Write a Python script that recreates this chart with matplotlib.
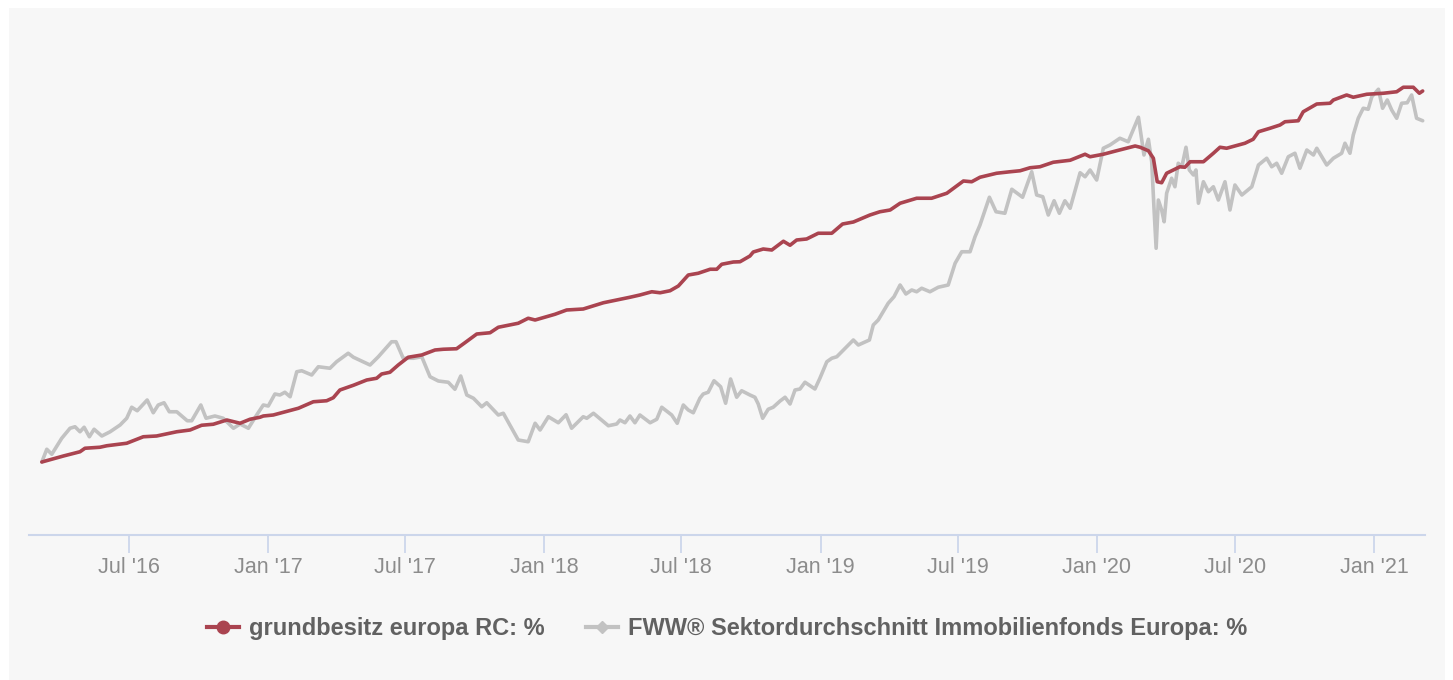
import datetime
import matplotlib
matplotlib.use("Agg")
import matplotlib.pyplot as plt
from matplotlib.lines import Line2D
from matplotlib.patches import Rectangle

# ---------------- data (time in decimal years, values in %) ----------------
red_name = "grundbesitz europa RC: %"
gray_name = "FWW® Sektordurchschnitt Immobilienfonds Europa: %"

red_t = [2016.182, 2016.260, 2016.320, 2016.338, 2016.392, 2016.417, 2016.489, 2016.549,
         2016.597, 2016.670, 2016.718, 2016.760, 2016.802, 2016.851, 2016.899, 2016.935,
         2016.971, 2016.983, 2017.019, 2017.110, 2017.164, 2017.212, 2017.236, 2017.260,
         2017.309, 2017.357, 2017.393, 2017.411, 2017.441, 2017.471, 2017.507, 2017.556,
         2017.604, 2017.634, 2017.682, 2017.712, 2017.755, 2017.803, 2017.833, 2017.905,
         2017.941, 2017.966, 2018.038, 2018.080, 2018.140, 2018.213, 2018.309, 2018.345,
         2018.388, 2018.418, 2018.454, 2018.484, 2018.520, 2018.556, 2018.599, 2018.623,
         2018.641, 2018.683, 2018.707, 2018.743, 2018.755, 2018.791, 2018.822, 2018.864,
         2018.888, 2018.912, 2018.948, 2018.990, 2019.039, 2019.078, 2019.117, 2019.177,
         2019.213, 2019.250, 2019.286, 2019.346, 2019.400, 2019.455, 2019.515, 2019.545,
         2019.575, 2019.635, 2019.684, 2019.720, 2019.756, 2019.792, 2019.840, 2019.901,
         2019.955, 2019.973, 2020.021, 2020.069, 2020.136, 2020.154, 2020.184, 2020.202,
         2020.216, 2020.232, 2020.250, 2020.298, 2020.316, 2020.335, 2020.383, 2020.419,
         2020.443, 2020.467, 2020.533, 2020.563, 2020.582, 2020.624, 2020.660, 2020.678,
         2020.726, 2020.744, 2020.793, 2020.841, 2020.853, 2020.901, 2020.925, 2020.974,
         2021.034, 2021.082, 2021.106, 2021.142, 2021.164, 2021.176]
red_v = [0.00, 0.24, 0.41, 0.55, 0.59, 0.65, 0.75, 1.01,
         1.04, 1.21, 1.28, 1.47, 1.51, 1.68, 1.55, 1.71,
         1.79, 1.84, 1.88, 2.15, 2.41, 2.45, 2.57, 2.88,
         3.07, 3.28, 3.35, 3.52, 3.59, 3.88, 4.19, 4.28,
         4.48, 4.51, 4.53, 4.77, 5.12, 5.17, 5.39, 5.55,
         5.75, 5.68, 5.91, 6.08, 6.12, 6.37, 6.59, 6.68,
         6.81, 6.77, 6.85, 7.04, 7.48, 7.55, 7.71, 7.71,
         7.91, 8.00, 8.01, 8.24, 8.40, 8.52, 8.48, 8.83,
         8.67, 8.88, 8.92, 9.15, 9.15, 9.52, 9.60, 9.88,
         10.01, 10.08, 10.35, 10.55, 10.55, 10.75, 11.24, 11.21,
         11.39, 11.55, 11.61, 11.65, 11.77, 11.81, 11.99, 12.07,
         12.31, 12.21, 12.31, 12.45, 12.64, 12.59, 12.45, 12.15,
         11.21, 11.17, 11.55, 11.81, 11.79, 12.01, 12.01, 12.35,
         12.59, 12.55, 12.75, 12.91, 13.21, 13.35, 13.48, 13.61,
         13.65, 14.01, 14.32, 14.35, 14.48, 14.68, 14.59, 14.71,
         14.75, 14.81, 14.99, 14.99, 14.75, 14.84]

gray_t = [2016.182, 2016.200, 2016.218, 2016.254, 2016.284, 2016.302, 2016.320, 2016.335,
          2016.354, 2016.371, 2016.399, 2016.429, 2016.465, 2016.489, 2016.507, 2016.527,
          2016.563, 2016.585, 2016.603, 2016.624, 2016.643, 2016.670, 2016.708, 2016.724,
          2016.757, 2016.776, 2016.808, 2016.838, 2016.875, 2016.899, 2016.929, 2016.959,
          2016.983, 2017.001, 2017.025, 2017.043, 2017.061, 2017.080, 2017.104, 2017.122,
          2017.158, 2017.182, 2017.224, 2017.248, 2017.290, 2017.309, 2017.369, 2017.399,
          2017.447, 2017.463, 2017.489, 2017.526, 2017.556, 2017.586, 2017.616, 2017.652,
          2017.676, 2017.697, 2017.719, 2017.743, 2017.773, 2017.791, 2017.833, 2017.851,
          2017.905, 2017.941, 2017.966, 2017.984, 2018.014, 2018.050, 2018.078, 2018.098,
          2018.140, 2018.153, 2018.177, 2018.231, 2018.261, 2018.273, 2018.291, 2018.309,
          2018.327, 2018.345, 2018.382, 2018.406, 2018.424, 2018.460, 2018.480, 2018.502,
          2018.520, 2018.538, 2018.562, 2018.574, 2018.592, 2018.613, 2018.637, 2018.655,
          2018.673, 2018.695, 2018.713, 2018.743, 2018.761, 2018.773, 2018.789, 2018.809,
          2018.827, 2018.852, 2018.870, 2018.888, 2018.906, 2018.924, 2018.942, 2018.978,
          2018.996, 2019.021, 2019.039, 2019.057, 2019.117, 2019.135, 2019.175, 2019.189,
          2019.207, 2019.243, 2019.264, 2019.286, 2019.307, 2019.328, 2019.346, 2019.364,
          2019.394, 2019.424, 2019.460, 2019.485, 2019.509, 2019.539, 2019.557, 2019.575,
          2019.609, 2019.633, 2019.665, 2019.690, 2019.729, 2019.762, 2019.780, 2019.802,
          2019.822, 2019.843, 2019.862, 2019.882, 2019.901, 2019.937, 2019.955, 2019.973,
          2019.997, 2020.021, 2020.045, 2020.081, 2020.111, 2020.148, 2020.168, 2020.184,
          2020.196, 2020.204, 2020.212, 2020.220, 2020.232, 2020.241, 2020.250, 2020.268,
          2020.280, 2020.292, 2020.305, 2020.320, 2020.332, 2020.347, 2020.356, 2020.365,
          2020.383, 2020.401, 2020.419, 2020.437, 2020.461, 2020.479, 2020.497, 2020.522,
          2020.558, 2020.582, 2020.612, 2020.630, 2020.648, 2020.666, 2020.690, 2020.714,
          2020.732, 2020.757, 2020.781, 2020.793, 2020.829, 2020.853, 2020.883, 2020.895,
          2020.913, 2020.925, 2020.943, 2020.961, 2020.979, 2020.992, 2021.016, 2021.031,
          2021.048, 2021.064, 2021.082, 2021.100, 2021.120, 2021.136, 2021.154, 2021.176]
gray_v = [0.00, 0.51, 0.31, 0.95, 1.35, 1.41, 1.21, 1.39,
          1.01, 1.31, 1.04, 1.21, 1.48, 1.75, 2.19, 2.05,
          2.48, 1.97, 2.28, 2.37, 2.01, 2.01, 1.65, 1.65,
          2.28, 1.75, 1.84, 1.75, 1.35, 1.52, 1.35, 1.88,
          2.28, 2.24, 2.72, 2.68, 2.79, 2.61, 3.61, 3.65,
          3.48, 3.81, 3.75, 4.01, 4.35, 4.19, 3.88, 4.21,
          4.81, 4.81, 4.15, 4.15, 4.21, 3.41, 3.24, 3.19,
          2.91, 3.44, 2.68, 2.55, 2.21, 2.37, 1.88, 1.95,
          0.88, 0.81, 1.55, 1.28, 1.81, 1.57, 1.89, 1.35,
          1.81, 1.75, 1.95, 1.45, 1.52, 1.68, 1.57, 1.84,
          1.57, 1.88, 1.57, 1.71, 2.19, 1.88, 1.55, 2.28,
          2.08, 1.97, 2.55, 2.72, 2.79, 3.25, 3.01, 2.35,
          3.32, 2.59, 2.85, 2.68, 2.59, 2.32, 1.75, 2.11,
          2.19, 2.44, 2.59, 2.32, 2.88, 2.92, 3.19, 2.92,
          3.35, 4.01, 4.15, 4.21, 4.88, 4.68, 4.88, 5.48,
          5.68, 6.35, 6.61, 7.08, 6.72, 6.88, 6.81, 6.95,
          6.81, 6.99, 7.08, 7.95, 8.41, 8.41, 9.01, 9.48,
          10.59, 10.01, 9.95, 10.91, 10.59, 11.61, 10.68, 10.61,
          9.88, 10.45, 9.95, 10.45, 10.15, 11.57, 11.41, 11.68,
          11.28, 12.55, 12.68, 12.95, 12.81, 13.79, 12.28, 12.91,
          12.01, 10.21, 8.55, 10.48, 10.08, 9.61, 10.75, 11.35,
          11.01, 11.95, 11.81, 12.59, 11.68, 11.48, 11.68, 10.35,
          11.21, 10.81, 11.01, 10.48, 11.21, 10.08, 11.08, 10.68,
          11.01, 11.88, 12.15, 11.81, 11.95, 11.55, 12.21, 12.35,
          11.75, 12.48, 12.28, 12.55, 11.88, 12.15, 12.35, 12.75,
          12.35, 13.08, 13.75, 14.15, 14.11, 14.61, 14.91, 14.15,
          14.48, 14.08, 13.75, 14.35, 14.37, 14.68, 13.75, 13.65]

tick_dates = ["2016-07-01", "2017-01-01", "2017-07-01", "2018-01-01", "2018-07-01",
              "2019-01-01", "2019-07-01", "2020-01-01", "2020-07-01", "2021-01-01"]
tick_labels = ["Jul '16", "Jan '17", "Jul '17", "Jan '18", "Jul '18",
               "Jan '19", "Jul '19", "Jan '20", "Jul '20", "Jan '21"]
x_range = (2016.1356, 2021.1844)
y_range = (-2.92, 18.08)

RED = "#aa4450"
GRAY = "#c2c2c2"

EPOCH = datetime.datetime(2017, 1, 1)


def to_dt(t):
    return EPOCH + datetime.timedelta(days=(t - 2017.0) * 365.25)


plt.rcParams["font.family"] = ["Liberation Sans", "DejaVu Sans"]

fig = plt.figure(figsize=(14.53, 6.80), dpi=100)
fig.patch.set_facecolor("white")
panel = Rectangle((9 / 1453, 0), (1445 - 9) / 1453, 1 - 8 / 680,
                  transform=fig.transFigure, facecolor="#f7f7f7",
                  edgecolor="none", zorder=-10)
fig.add_artist(panel)

ax = fig.add_axes([29 / 1453, 1 - 535 / 680, (1425 - 29) / 1453, (535 - 10) / 680])
ax.set_zorder(5)
ax.patch.set_visible(False)

ax.plot([to_dt(t) for t in gray_t], gray_v, color=GRAY, lw=2.6,
        solid_joinstyle="round", solid_capstyle="round", zorder=2)
ax.plot([to_dt(t) for t in red_t], red_v, color=RED, lw=2.6,
        solid_joinstyle="round", solid_capstyle="round", zorder=3)

ax.set_xlim(to_dt(x_range[0]), to_dt(x_range[1]))
ax.set_ylim(*y_range)

for s in ("top", "left", "right"):
    ax.spines[s].set_visible(False)
ax.spines["bottom"].set_color("#ccd6eb")
ax.spines["bottom"].set_linewidth(1.5)
ax.set_yticks([])
ax.set_xticks([datetime.datetime.fromisoformat(d) for d in tick_dates])
ax.set_xticklabels(tick_labels)
ax.tick_params(axis="x", length=13, width=1.3, color="#ccd6eb", pad=3,
               labelsize=15.5, labelcolor="#8c8c8c")

handles = [
    Line2D([], [], color=RED, lw=3, marker="o", markersize=9),
    Line2D([], [], color=GRAY, lw=3, marker="D", markersize=6),
]
leg = fig.legend(handles, [red_name, gray_name], loc="center",
                 bbox_to_anchor=(727 / 1453, 1 - 629 / 680), ncol=2, frameon=False,
                 handlelength=1.35, handletextpad=0.42, columnspacing=1.75,
                 prop={"weight": "bold", "size": 17})
for txt in leg.get_texts():
    txt.set_color("#616161")

fig.savefig("out.png", dpi=100, facecolor="white")
